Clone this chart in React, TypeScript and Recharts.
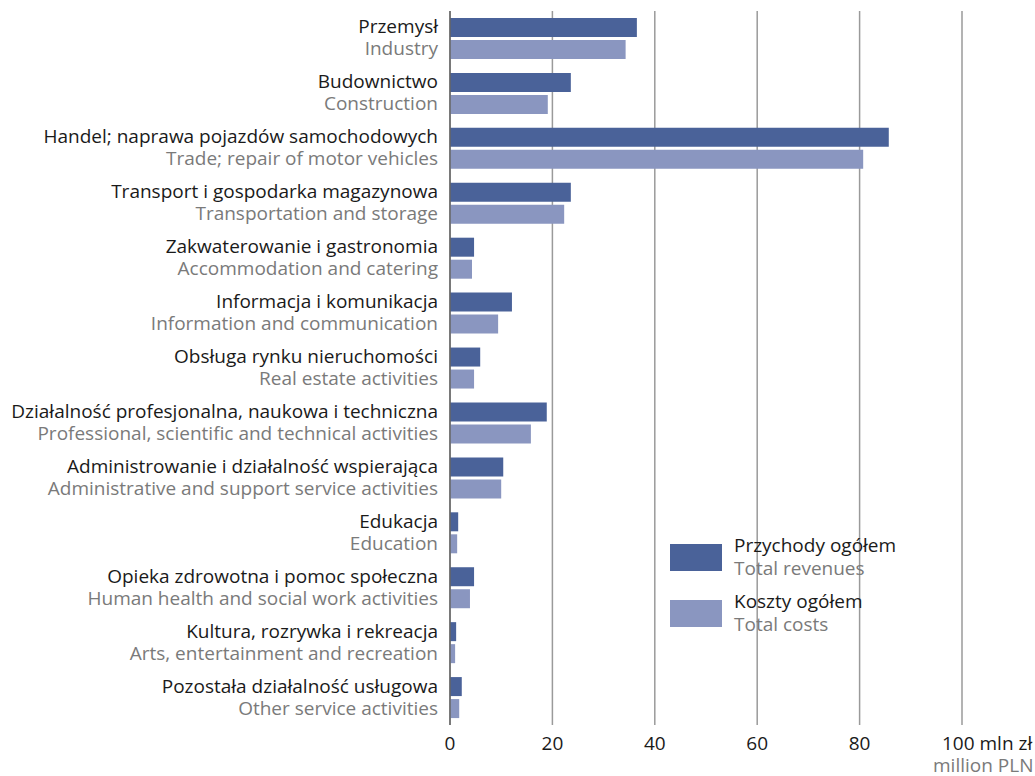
import React from 'react';
import { BarChart, Bar, XAxis, YAxis, CartesianGrid } from 'recharts';

const categoriesPl = [
  'Przemysł',
  'Budownictwo',
  'Handel; naprawa pojazdów samochodowych',
  'Transport i gospodarka magazynowa',
  'Zakwaterowanie i gastronomia',
  'Informacja i komunikacja',
  'Obsługa rynku nieruchomości',
  'Działalność profesjonalna, naukowa i techniczna',
  'Administrowanie i działalność wspierająca',
  'Edukacja',
  'Opieka zdrowotna i pomoc społeczna',
  'Kultura, rozrywka i rekreacja',
  'Pozostała działalność usługowa',
];
const categoriesEn = [
  'Industry',
  'Construction',
  'Trade; repair of motor vehicles',
  'Transportation and storage',
  'Accommodation and catering',
  'Information and communication',
  'Real estate activities',
  'Professional, scientific and technical activities',
  'Administrative and support service activities',
  'Education',
  'Human health and social work activities',
  'Arts, entertainment and recreation',
  'Other service activities',
];
const revenues = [36.5, 23.6, 85.7, 23.6, 4.7, 12.1, 5.9, 18.9, 10.4, 1.6, 4.7, 1.2, 2.3];
const costs = [34.3, 19.1, 80.7, 22.3, 4.3, 9.4, 4.7, 15.8, 10.0, 1.4, 3.9, 1.0, 1.8];
const xTicks = [0, 20, 40, 60, 80, 100];
const legendItems = [
  { key: 'revenues', pl: 'Przychody ogółem', en: 'Total revenues' },
  { key: 'costs', pl: 'Koszty ogółem', en: 'Total costs' },
];

const DARK = '#4a6299';
const LIGHT = '#8a96c0';
const FONT = '"Open Sans", sans-serif';
const FS = 19;

const data = categoriesPl.map((pl, i) => ({
  pl,
  en: categoriesEn[i],
  revenues: revenues[i],
  costs: costs[i],
}));

const YTick = (props: any) => {
  const { x, y, payload } = props;
  const idx = categoriesPl.indexOf(payload.value);
  return (
    <g>
      <text x={x - 4} y={y - 5} textAnchor="end" fontSize={FS} fontFamily={FONT} fill="#1a1a1a">
        {payload.value}
      </text>
      <text x={x - 4} y={y + 17} textAnchor="end" fontSize={FS} fontFamily={FONT} fill="#7a7a7a">
        {categoriesEn[idx]}
      </text>
    </g>
  );
};

const XTick = (props: any) => {
  const { x, y, payload } = props;
  if (payload.value === 100) {
    return (
      <g>
        <text x={x - 20} y={y + 17} textAnchor="start" fontSize={FS} fontFamily={FONT} fill="#1a1a1a">
          100 mln zł
        </text>
        <text x={x - 29} y={y + 39} textAnchor="start" fontSize={FS} fontFamily={FONT} fill="#7a7a7a">
          million PLN
        </text>
      </g>
    );
  }
  return (
    <text x={x} y={y + 17} textAnchor="middle" fontSize={FS} fontFamily={FONT} fill="#1a1a1a">
      {payload.value}
    </text>
  );
};

export default function App() {
  return (
    <div style={{ position: 'absolute', left: 0, top: 0, width: 1035, height: 776, background: '#fff' }}>
      <BarChart
        width={1035}
        height={776}
        data={data}
        layout="vertical"
        margin={{ top: 11, right: 73, left: 0, bottom: 21 }}
        barSize={19}
        barGap={3}
      >
        <CartesianGrid horizontal={false} stroke="#9a9a9a" strokeWidth={1.5} />
        <XAxis
          type="number"
          domain={[0, 100]}
          ticks={xTicks}
          axisLine={false}
          tickLine={false}
          height={30}
          tick={<XTick />}
          interval={0}
        />
        <YAxis
          type="category"
          dataKey="pl"
          width={450}
          axisLine={{ stroke: '#666', strokeWidth: 1.5 }}
          tickLine={false}
          tick={<YTick />}
          interval={0}
        />
        <Bar dataKey="revenues" fill={DARK} isAnimationActive={false} />
        <Bar dataKey="costs" fill={LIGHT} isAnimationActive={false} />
      </BarChart>
      <div style={{ position: 'absolute', left: 670, top: 540, width: 300, fontFamily: FONT, fontSize: FS }}>
        {legendItems.map((it, i) => (
          <div key={i} style={{ position: 'relative', height: 56 }}>
            <div style={{ position: 'absolute', left: 0, top: 4, width: 52, height: 27, background: it.key === 'revenues' ? DARK : LIGHT }} />
            <div style={{ position: 'absolute', left: 64, top: -6, lineHeight: '22px', color: '#1a1a1a', whiteSpace: 'nowrap' }}>{it.pl}</div>
            <div style={{ position: 'absolute', left: 64, top: 17, lineHeight: '22px', color: '#7a7a7a', whiteSpace: 'nowrap' }}>{it.en}</div>
          </div>
        ))}
      </div>
    </div>
  );
}
